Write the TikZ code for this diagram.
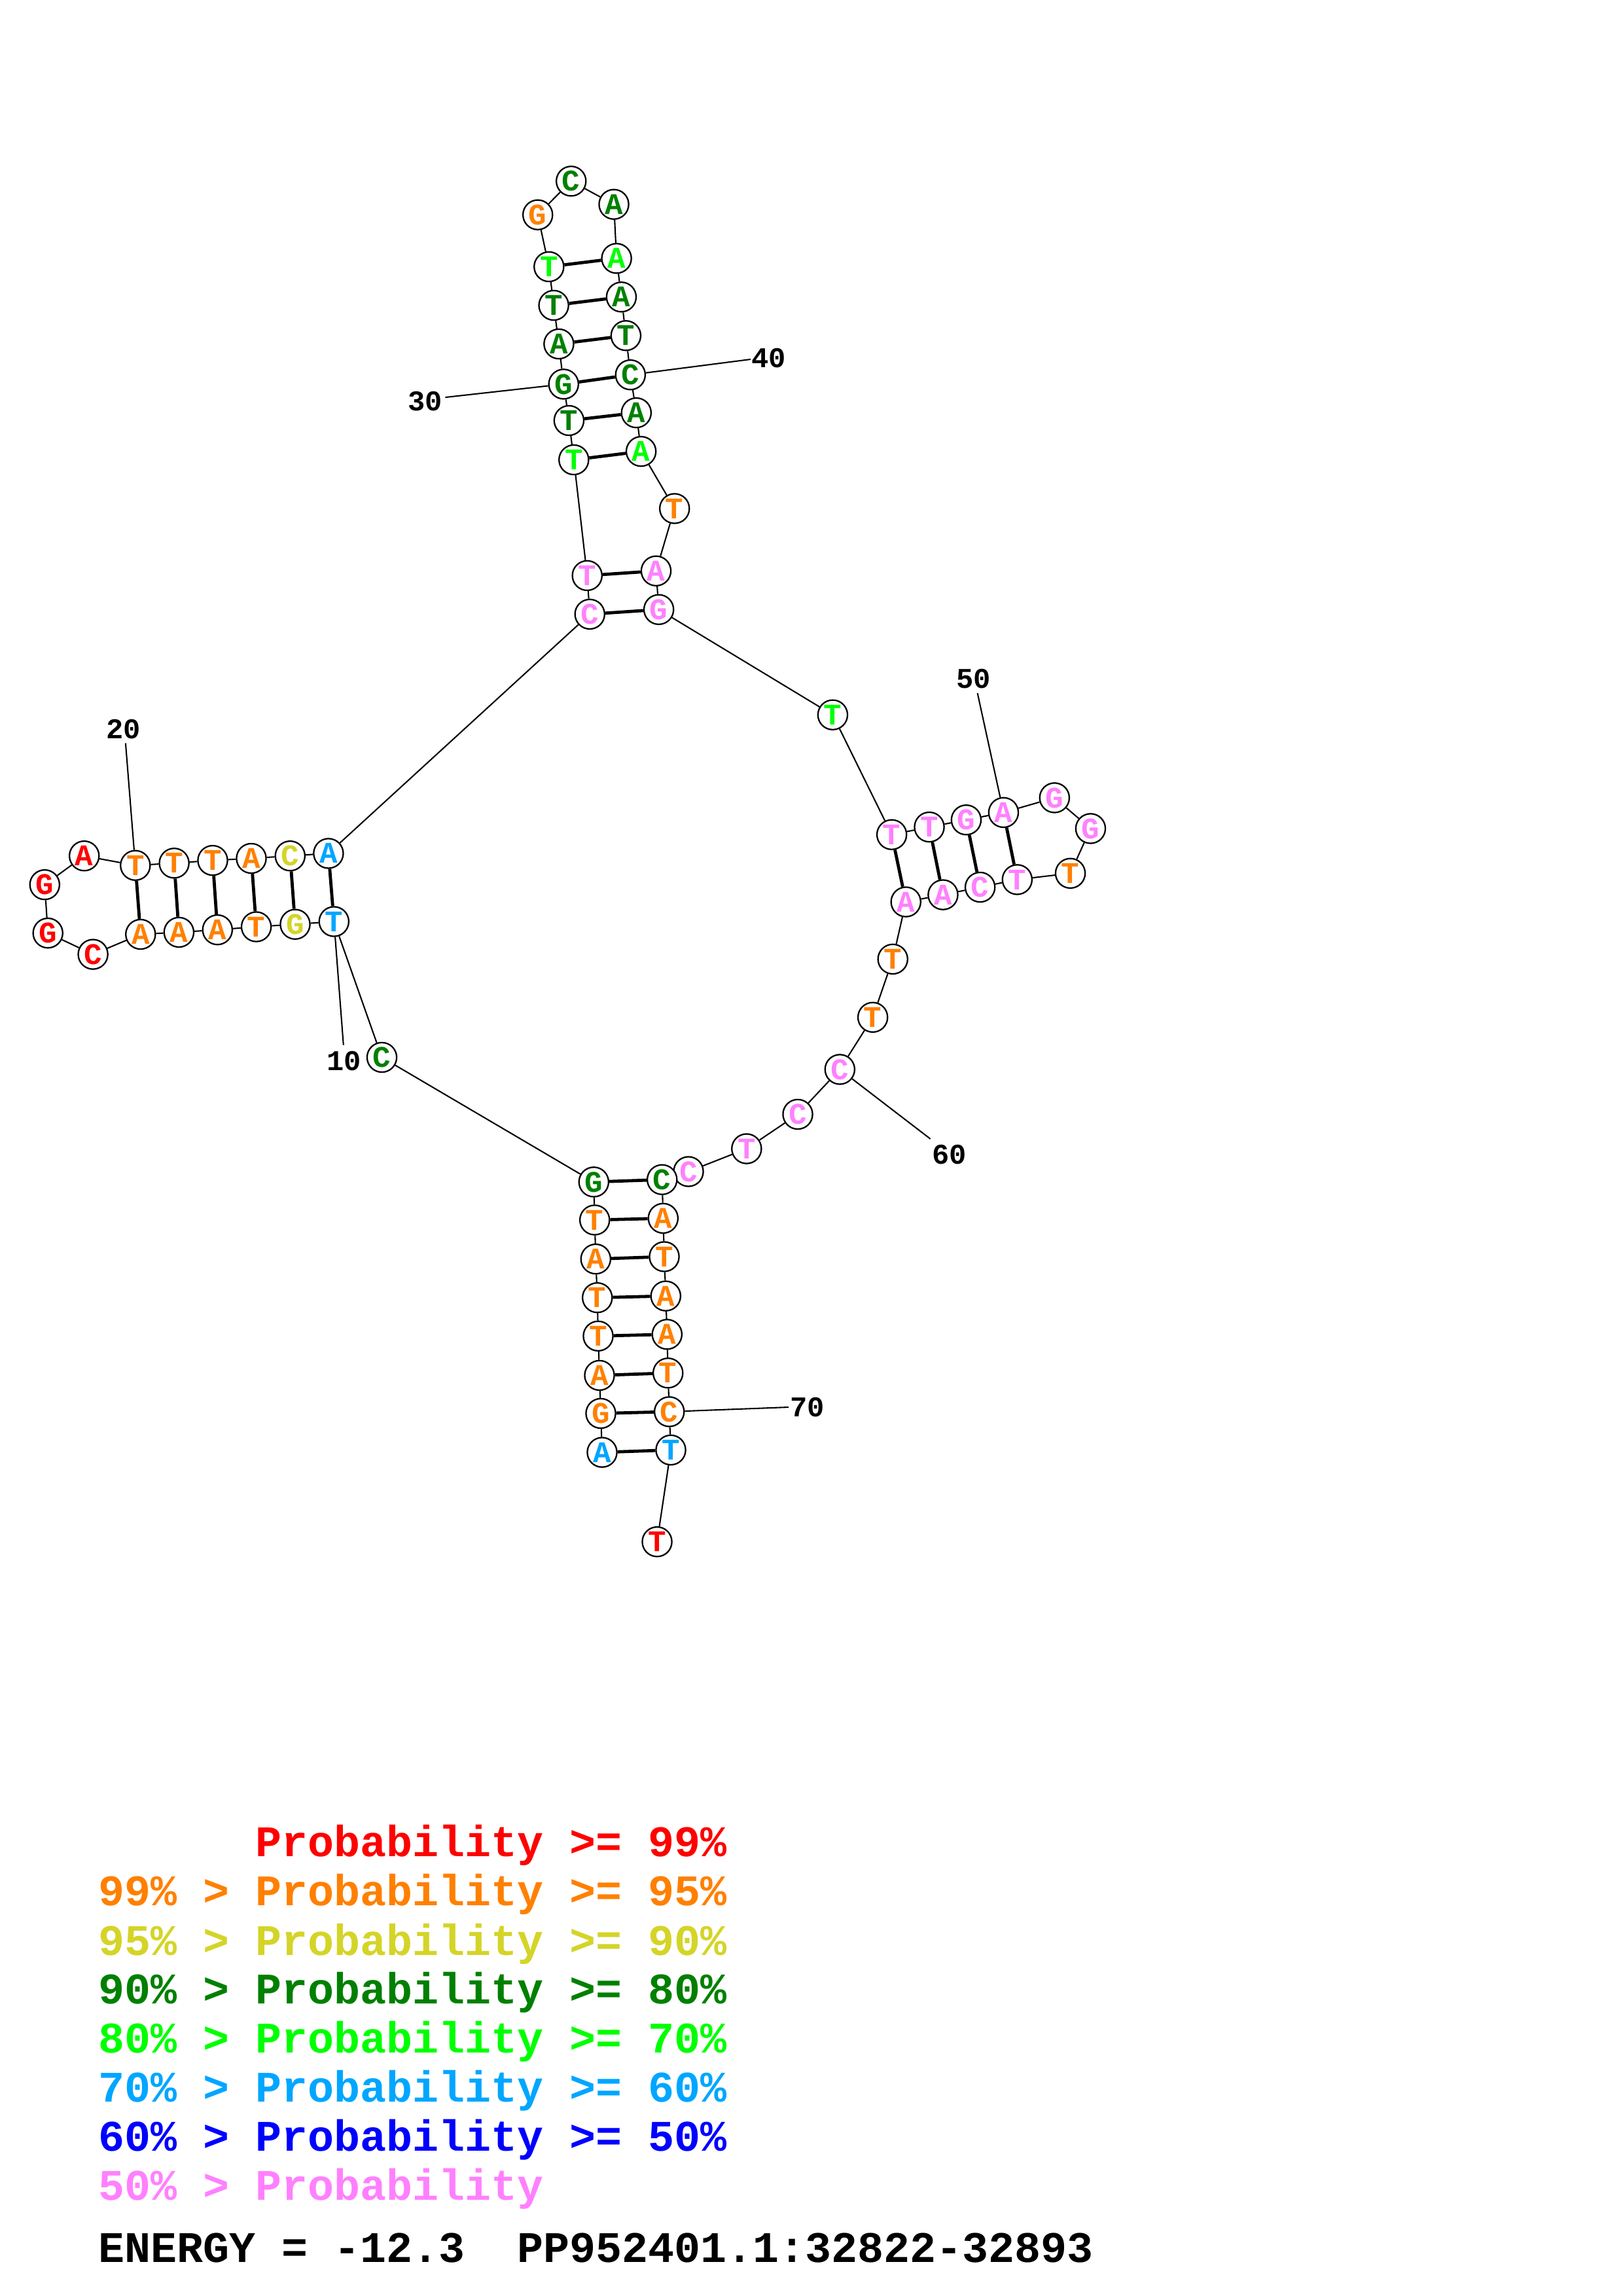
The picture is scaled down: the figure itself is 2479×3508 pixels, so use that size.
\documentclass[tikz,border=0pt]{standalone}
\usepackage{fontspec}
\newfontfamily\mono{Liberation Mono}
\definecolor{cR}{RGB}{255,0,0}
\definecolor{cO}{RGB}{255,128,0}
\definecolor{cY}{RGB}{212,212,40}
\definecolor{cD}{RGB}{0,128,0}
\definecolor{cG}{RGB}{0,255,0}
\definecolor{cL}{RGB}{0,166,255}
\definecolor{cB}{RGB}{0,0,255}
\definecolor{cP}{RGB}{255,128,255}
\pgfdeclarelayer{bg}
\pgfsetlayers{bg,main}
\tikzset{
  nt/.style={circle, draw=black, line width=0.55pt, fill=white, minimum size=10.85pt, inner sep=0pt,
    font=\mono\bfseries\fontsize{11}{11}\selectfont},
  bb/.style={line width=0.5pt, draw=black},
  pr/.style={line width=1.15pt, draw=black},
  num/.style={inner sep=0pt, font=\mono\bfseries\fontsize{10.5}{10.5}\selectfont},
  lg/.style={inner sep=0pt, anchor=base west, font=\mono\bfseries\fontsize{16}{16}\selectfont}
}
\begin{document}
\begin{tikzpicture}[x=0.24pt, y=-0.24pt]
\useasboundingbox (0,0) rectangle (2479,3508);
\foreach \i/\x/\y/\l/\c in {
1/920/2219/A/cL, 2/918/2159.5/G/cO, 3/916/2101.4/A/cO, 4/914/2041.3/T/cO,
5/912.7/1982.7/T/cO, 6/910.3/1923.6/A/cO, 7/908.7/1864/T/cO, 8/907.3/1805.9/G/cD,
9/583.5/1615.5/C/cD, 10/510.3/1408/T/cL, 11/451/1412.2/G/cY, 12/391.6/1416/T/cO,
13/332.3/1420.6/A/cO, 14/273.4/1424.4/A/cO, 15/214.8/1427.5/A/cO, 16/142.1/1458.1/C/cR,
17/73.2/1425.6/G/cR, 18/68.3/1351.7/G/cR, 19/128.7/1307.7/A/cR, 20/206.8/1322.2/T/cO,
21/266.1/1318.8/T/cO, 22/325/1314.6/T/cO, 23/384/1311.5/A/cO, 24/443.3/1307.7/C/cY,
25/501.9/1303.9/A/cL, 26/901.2/938.4/C/cP, 27/897.2/879.4/T/cP, 28/876.8/702.5/T/cG,
29/869.4/642.5/T/cD, 30/861.2/586.9/G/cD, 31/853.9/525.5/A/cD, 32/846.1/466.5/T/cD,
33/838.8/407.5/T/cG, 34/821.7/328.2/G/cO, 35/872.7/276.8/C/cD, 36/938/312.2/A/cD,
37/942.1/394.8/A/cG, 38/949.4/453.8/A/cD, 39/956.4/512.8/T/cD, 40/963.3/572.7/C/cD,
41/972.3/630.7/A/cD, 42/979.6/689.7/A/cG, 43/1030.7/777/T/cO, 44/1002.5/872.3/A/cP,
45/1006.6/931.3/G/cP, 46/1272.4/1092.2/T/cG, 47/1362.6/1275.2/T/cP, 48/1420/1263.6/T/cP,
49/1476.4/1252.7/G/cP, 50/1533.4/1241.4/A/cP, 51/1611.3/1218.9/G/cP, 52/1666.4/1265.9/G/cP,
53/1635.5/1334.3/T/cO, 54/1554.3/1343.9/T/cP, 55/1497.6/1355.5/C/cP, 56/1440.9/1367.1/A/cP,
57/1384.2/1378/A/cP, 58/1364.2/1465.4/T/cO, 59/1333.6/1554.3/T/cO, 60/1283.3/1633.9/C/cP,
61/1219/1702.5/C/cP, 62/1140.8/1755.1/T/cP, 63/1052/1790/C/cP, 64/1011.7/1802.3/C/cD,
65/1013.3/1861.4/A/cO, 66/1015/1920/T/cO, 67/1017.3/1980.1/A/cO, 68/1019.3/2038.7/A/cO,
69/1020.7/2097.8/T/cO, 70/1022.7/2156.9/C/cO, 71/1025/2215.4/T/cL, 72/1004/2355.6/T/cR}
{ \node[nt, text=\c] (n\i) at (\x,\y) {\l}; }
% number labels
\coordinate (t10) at (524.8,1596.6);
\coordinate (t20) at (191.9,1135.5);
\coordinate (t30) at (680.4,607.1);
\coordinate (t40) at (1147,549);
\coordinate (t50) at (1493.6,1059);
\coordinate (t60) at (1421.6,1740.1);
\coordinate (t70) at (1205,2150);
\node[num] (l10) at (525.6,1620.8) {10};
\node[num] (l20) at (188.8,1114.4) {20};
\node[num] (l30) at (649.8,612.8) {30};
\node[num] (l40) at (1174.8,546.7) {40};
\node[num] (l50) at (1487.3,1037.1) {50};
\node[num] (l60) at (1450.3,1764) {60};
\node[num] (l70) at (1233.3,2150) {70};
\begin{pgfonlayer}{bg}
\foreach \i in {1,...,71} {
  \pgfmathtruncatemacro\j{\i+1}
  \draw[bb] (n\i) -- (n\j);
}
\foreach \a/\b in {1/71,2/70,3/69,4/68,5/67,6/66,7/65,8/64,
  10/25,11/24,12/23,13/22,14/21,15/20,
  26/45,27/44,28/42,29/41,30/40,31/39,32/38,33/37,
  47/57,48/56,49/55,50/54}
{ \draw[pr] (n\a) -- (n\b); }
\foreach \k in {10,20,30,40,50,60,70}
{ \draw[bb] (n\k) -- (t\k); }
\end{pgfonlayer}
% legend
\node[lg, text=cR] (g1) at (390,2836.6) {Probability >= 99\%};
\node[lg, text=cO] (g2) at (150,2911.9) {99\% > Probability >= 95\%};
\node[lg, text=cY] (g3) at (150,2987.6) {95\% > Probability >= 90\%};
\node[lg, text=cD] (g4) at (150,3061.6) {90\% > Probability >= 80\%};
\node[lg, text=cG] (g5) at (150,3136.9) {80\% > Probability >= 70\%};
\node[lg, text=cL] (g6) at (150,3211.7) {70\% > Probability >= 60\%};
\node[lg, text=cB] (g7) at (150,3286.6) {60\% > Probability >= 50\%};
\node[lg, text=cP] (g8) at (150,3361) {50\% > Probability};
\node[lg, text=black] (g9) at (150,3456.5) {ENERGY = -12.3\ \ PP952401.1:32822-32893};
\end{tikzpicture}
\end{document}
